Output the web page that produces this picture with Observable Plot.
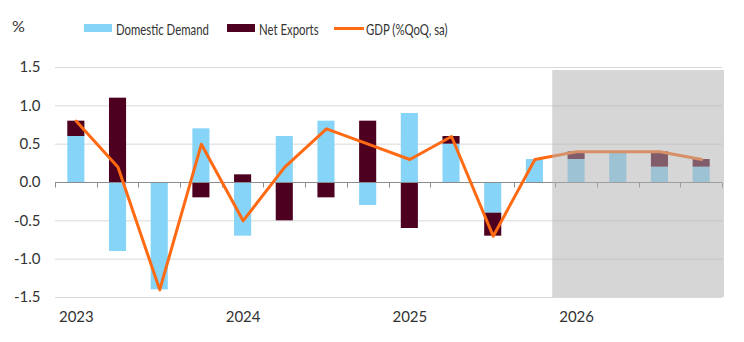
<!DOCTYPE html>
<html>
<head>
<meta charset="utf-8">
<script src="https://cdn.jsdelivr.net/npm/d3@7"></script>
<script src="https://cdn.jsdelivr.net/npm/@observablehq/plot@0.6"></script>
<style>
  html, body { margin: 0; padding: 0; background: #fff; }
  body { width: 744px; height: 342px; overflow: hidden; font-family: "Lato", sans-serif; color: #333; }
  #legend { position: relative; height: 45px; font-size: 16px; }
  #legend .it { position: absolute; top: 19px; display: flex; align-items: center; height: 18px; white-space: nowrap; }
  #legend .sw { width: 28px; height: 8px; margin-right: 4px; flex: none; }
  #legend .ln { width: 30px; height: 3px; margin-right: 2px; flex: none; }
  #legend .tx { display: inline-block; transform: scaleX(0.71); transform-origin: 0 50%; }
  #pct { position: absolute; left: 12px; top: 16px; font-size: 16px; }
  svg { display: block; }
</style>
</head>
<body>
<div id="legend"></div>
<div id="chart"></div>
<script>
const quarters = ["2023Q1","2023Q2","2023Q3","2023Q4","2024Q1","2024Q2","2024Q3","2024Q4",
                  "2025Q1","2025Q2","2025Q3","2025Q4","2026Q1","2026Q2","2026Q3","2026Q4"];
const domesticDemand = [0.6,-0.9,-1.4,0.7,-0.7,0.6,0.8,-0.3,0.9,0.5,-0.4,0.3,0.3,0.4,0.2,0.2];
const netExports     = [0.2,1.1,0.0,-0.2,0.1,-0.5,-0.2,0.8,-0.6,0.1,-0.3,0.0,0.1,0.0,0.2,0.1];
const gdp            = [0.8,0.2,-1.4,0.5,-0.5,0.2,0.7,0.5,0.3,0.6,-0.7,0.3,0.4,0.4,0.4,0.3];
const seriesNames = ["Domestic Demand", "Net Exports", "GDP (%QoQ, sa)"];
const seriesColors = ["#87d4f9", "#4d0020", "#ff6a13"];
const yTicks = [1.5, 1.0, 0.5, 0.0, -0.5, -1.0, -1.5];
const yearTicks = ["2023Q1", "2024Q1", "2025Q1", "2026Q1"];
const forecastQuarters = ["2026Q1", "2026Q2", "2026Q3", "2026Q4"];
const forecastTop = 1.46;

// legend
const legend = document.getElementById("legend");
legend.innerHTML = `<div id="pct">%</div>` +
  `<div class="it" style="left:84px"><div class="sw" style="background:${seriesColors[0]}"></div><span class="tx">${seriesNames[0]}</span></div>` +
  `<div class="it" style="left:227px"><div class="sw" style="background:${seriesColors[1]}"></div><span class="tx">${seriesNames[1]}</span></div>` +
  `<div class="it" style="left:334px"><div class="ln" style="background:${seriesColors[2]}"></div><span class="tx">${seriesNames[2]}</span></div>`;

const bars = quarters.flatMap((q, i) => [
  {q, series: seriesNames[0], v: domesticDemand[i]},
  {q, series: seriesNames[1], v: netExports[i]}
]);
const line = quarters.map((q, i) => ({q, v: gdp[i]}));
const PI = 0.59, PO = 0.295;

function bandInfo(x) {
  const step = x(quarters[1]) - x(quarters[0]);
  const gap = step * PI;
  return {step, half: gap / 2};
}

// tick marks at band boundaries on the zero axis
function xTickMarks(index, {x, y}) {
  const {step, half} = bandInfo(x);
  const g = d3.create("svg:g").attr("stroke", "#8c8c8c").attr("stroke-width", 1);
  const y0 = Math.round(y(0)) + 0.5;
  const bounds = quarters.map(q => x(q) - half).concat([x(quarters[quarters.length - 1]) - half + step]);
  for (const b of bounds) {
    const xx = Math.round(b) + 0.5;
    g.append("line").attr("x1", xx).attr("x2", xx).attr("y1", y0).attr("y2", y0 + 5);
  }
  return g.node();
}

// forecast shading
function forecastShade(index, {x, y}) {
  const {step, half} = bandInfo(x);
  const x1 = x(forecastQuarters[0]) - half - 3;
  const x2 = x(forecastQuarters[forecastQuarters.length - 1]) - half + step + 2;
  return d3.create("svg:rect")
    .attr("x", x1).attr("width", x2 - x1)
    .attr("y", y(forecastTop)).attr("height", y(-1.5) - y(forecastTop))
    .attr("fill", "rgb(177,177,177)").attr("fill-opacity", 0.525)
    .node();
}

const chart = Plot.plot({
  width: 744,
  height: 297,
  marginTop: 22,
  marginBottom: 45,
  marginLeft: 55,
  marginRight: 22,
  style: {fontFamily: "Lato, sans-serif", fontSize: "15px", color: "#333", background: "#fff"},
  x: {type: "band", domain: quarters, paddingInner: PI, paddingOuter: PO, round: false, axis: null},
  y: {domain: [-1.5, 1.5], axis: null},
  color: {domain: seriesNames, range: seriesColors},
  marks: [
    Plot.gridY(yTicks.filter(d => d !== 0), {stroke: "#d9d9d9", strokeOpacity: 1}),
    Plot.axisY(yTicks, {tickSize: 0, tickPadding: 15, tickFormat: d => d.toFixed(1), fontSize: 15, label: null}),
    Plot.barY(bars, {x: "q", y: "v", fill: "series", order: seriesNames}),
    Plot.ruleY([0], {stroke: "#8c8c8c"}),
    xTickMarks,
    Plot.lineY(line, {x: "q", y: "v", stroke: seriesColors[2], strokeWidth: 3, curve: "linear"}),
    forecastShade,
    Plot.axisX(yearTicks, {tickSize: 0, tickPadding: 14, tickFormat: d => d.slice(0, 4), fontSize: 15, label: null})
  ]
});
document.getElementById("chart").appendChild(chart);
</script>
</body>
</html>
